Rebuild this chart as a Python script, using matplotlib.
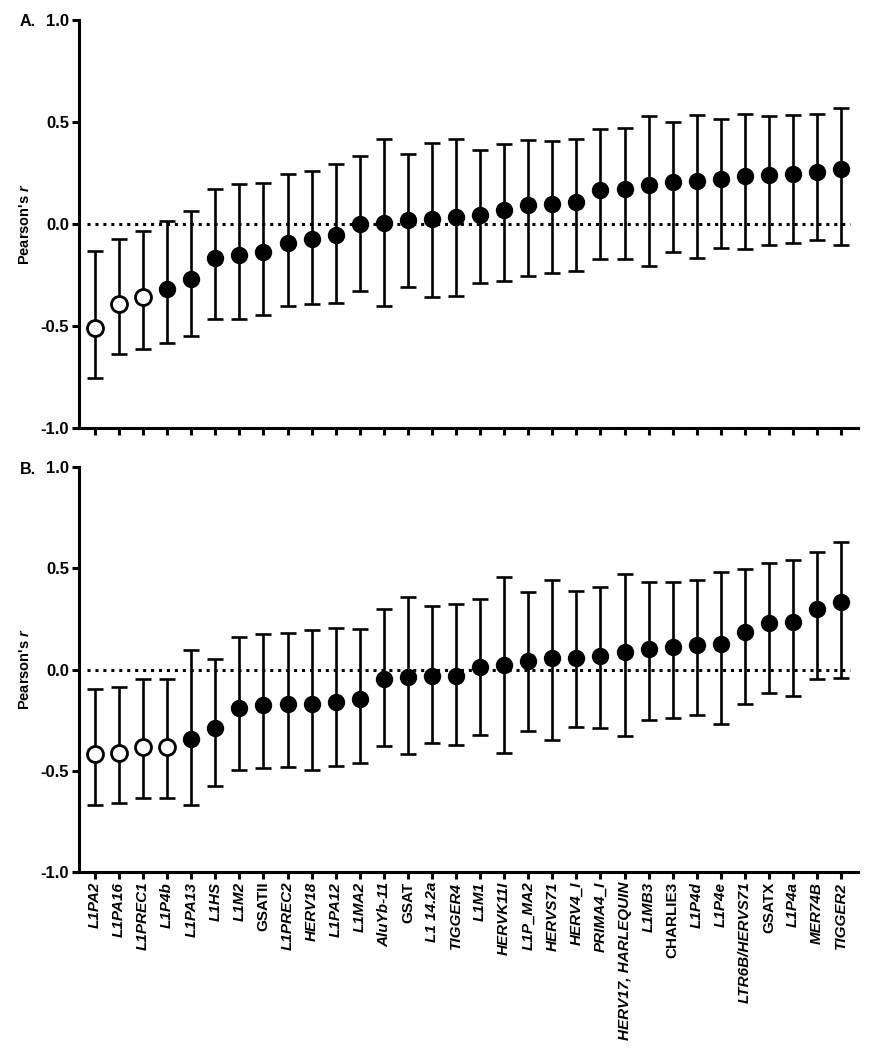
import matplotlib.pyplot as plt
import numpy as np

plt.rcParams["font.family"] = "Liberation Sans"
plt.rcParams["font.weight"] = "bold"
plt.rcParams["mathtext.fontset"] = "custom"
plt.rcParams["mathtext.it"] = "Liberation Sans:bold:italic"
plt.rcParams["mathtext.rm"] = "Liberation Sans:bold"

# %% panel A: sorted correlations (labels not shown on this panel)
a_r = [-0.509, -0.393, -0.357, -0.318, -0.268, -0.169, -0.152, -0.139, -0.093, -0.075,
       -0.054, 0.002, 0.007, 0.018, 0.025, 0.036, 0.044, 0.069, 0.092, 0.098,
       0.106, 0.165, 0.170, 0.190, 0.208, 0.211, 0.219, 0.236, 0.239, 0.245,
       0.255, 0.268]
a_hi = [-0.131, -0.075, -0.033, 0.015, 0.064, 0.170, 0.196, 0.200, 0.245, 0.262,
        0.293, 0.331, 0.419, 0.344, 0.399, 0.416, 0.363, 0.393, 0.412, 0.409,
        0.416, 0.465, 0.470, 0.529, 0.501, 0.535, 0.516, 0.540, 0.527, 0.534,
        0.537, 0.570]
a_lo = [-0.754, -0.638, -0.614, -0.581, -0.548, -0.468, -0.466, -0.444, -0.403, -0.393,
        -0.388, -0.327, -0.401, -0.309, -0.357, -0.354, -0.291, -0.278, -0.254, -0.239,
        -0.231, -0.173, -0.170, -0.205, -0.136, -0.169, -0.119, -0.123, -0.103, -0.095,
        -0.079, -0.101]
a_open = 3  # first n points drawn hollow

# %% panel B
b_labels = ["L1PA2", "L1PA16", "L1PREC1", "L1P4b", "L1PA13", "L1HS", "L1M2", "GSATII",
            "L1PREC2", "HERV18", "L1PA12", "L1MA2", "AluYb-11", "GSAT", "L1 14.2a", "TIGGER4",
            "L1M1", "HERVK11I", "L1P_MA2", "HERVS71", "HERV4_I", "PRIMA4_I",
            "HERV17, HARLEQUIN", "L1MB3", "CHARLIE3", "L1P4d", "L1P4e", "LTR6B/HERVS71",
            "GSATX", "L1P4a", "MER74B", "TIGGER2"]
upright = {"GSATII", "GSAT", "CHARLIE3", "GSATX"}
b_r = [-0.419, -0.411, -0.381, -0.381, -0.342, -0.291, -0.190, -0.174, -0.172, -0.172,
       -0.159, -0.148, -0.049, -0.038, -0.033, -0.030, 0.013, 0.023, 0.044, 0.056,
       0.059, 0.066, 0.085, 0.103, 0.110, 0.123, 0.125, 0.184, 0.230, 0.233,
       0.299, 0.335]
b_hi = [-0.094, -0.085, -0.046, -0.046, 0.095, 0.054, 0.159, 0.177, 0.181, 0.194,
        0.204, 0.202, 0.297, 0.356, 0.314, 0.323, 0.348, 0.455, 0.381, 0.440,
        0.389, 0.406, 0.470, 0.430, 0.430, 0.443, 0.481, 0.498, 0.525, 0.542,
        0.578, 0.629]
b_lo = [-0.668, -0.660, -0.637, -0.637, -0.670, -0.575, -0.498, -0.486, -0.483, -0.498,
        -0.479, -0.461, -0.379, -0.419, -0.365, -0.374, -0.325, -0.411, -0.305, -0.348,
        -0.284, -0.289, -0.328, -0.250, -0.238, -0.223, -0.268, -0.171, -0.118, -0.133,
        -0.049, -0.041]
b_open = 4

W, H = 869, 1050
fig = plt.figure(figsize=(W / 100, H / 100), dpi=100)


def panel(rect, r, lo, hi, n_open, tag):
    ax = fig.add_axes([rect[0] / W, 1 - rect[3] / H, (rect[2] - rect[0]) / W, (rect[3] - rect[1]) / H])
    r, lo, hi = map(np.asarray, (r, lo, hi))
    x = np.arange(len(r))
    ax.axhline(0, color="black", lw=2.2, linestyle=(0, (1, 1.6)), dash_capstyle="butt",
               xmin=0.01, xmax=0.99, zorder=1)
    ax.errorbar(x, r, yerr=[r - lo, hi - r], fmt="none", ecolor="black", elinewidth=1.9,
                capsize=5.5, capthick=1.9, zorder=2)
    ax.plot(x[:n_open], r[:n_open], "o", ms=11.5, mfc="white", mec="black", mew=2, zorder=3)
    ax.plot(x[n_open:], r[n_open:], "o", ms=11.5, mfc="black", mec="black", zorder=3)
    ax.set_xlim(-0.665, len(r) - 1 + 0.7)
    ax.set_ylim(-1.0, 1.0)
    ax.set_yticks([-1.0, -0.5, 0.0, 0.5, 1.0])
    ax.set_yticklabels([f"{v:.1f}" for v in [-1.0, -0.5, 0.0, 0.5, 1.0]], fontsize=12, fontweight="bold")
    ax.set_xticks(x)
    for side in ["top", "right"]:
        ax.spines[side].set_visible(False)
    for side in ["left", "bottom"]:
        ax.spines[side].set_linewidth(2.2)
    ax.tick_params(width=2.2, length=5, pad=2)
    ax.set_ylabel("Pearson's $r$", fontsize=10.5, fontweight="bold", labelpad=6)
    fig.text(20 / W, 1 - (rect[1] + 2) / H, tag, fontsize=11.5, fontweight="bold", va="center", ha="left")
    return ax


ax_a = panel((79, 20, 858, 428), a_r, a_lo, a_hi, a_open, "A.")
ax_a.set_xticklabels([])

ax_b = panel((79, 467, 858, 872), b_r, b_lo, b_hi, b_open, "B.")
ax_b.set_xticklabels(b_labels, rotation=90, fontsize=11, fontweight="bold")
for lab in ax_b.get_xticklabels():
    if lab.get_text() not in upright:
        lab.set_fontstyle("italic")

fig.savefig("out.png", dpi=100)
